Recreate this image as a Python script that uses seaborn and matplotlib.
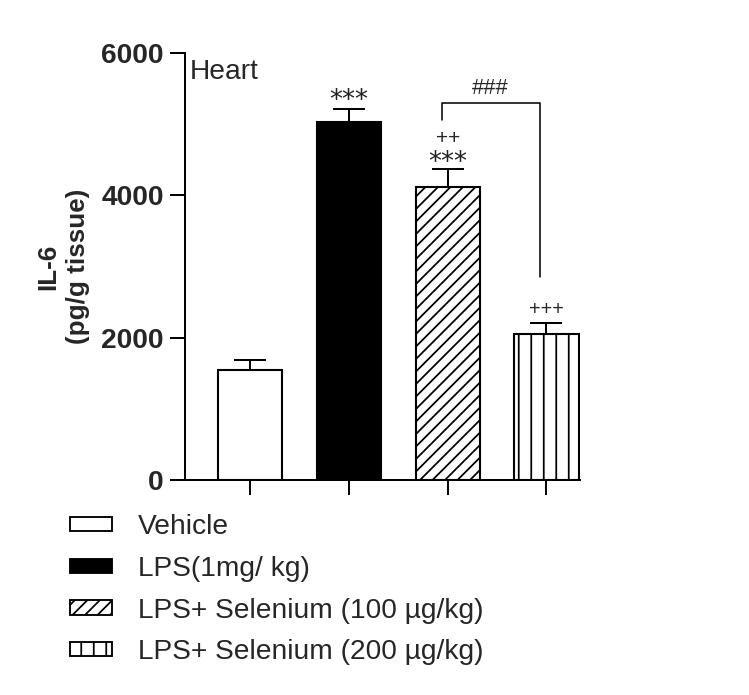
import matplotlib
matplotlib.use("Agg")
import matplotlib.pyplot as plt
from matplotlib.patches import Patch
import seaborn as sns
import pandas as pd
import numpy as np

# ---- data ----
groups = ["Vehicle", "LPS(1mg/ kg)", "LPS+ Selenium (100 \u00b5g/kg)", "LPS+ Selenium (200 \u00b5g/kg)"]
means = [1550, 5030, 4120, 2050]
sems = [140, 185, 250, 155]
colors = ["white", "black", "white", "white"]
hatches = ["", "", "//", "|"]
yticks = [0, 2000, 4000, 6000]
stars = ["", "***", "***", ""]
plus = ["", "", "++", "+++"]

DPI = 75
sns.set_style("ticks")
plt.rcParams["font.family"] = ["Liberation Sans", "DejaVu Sans"]
plt.rcParams["hatch.linewidth"] = 1.7
plt.rcParams["hatch.color"] = "black"

fig = plt.figure(figsize=(749 / DPI, 695 / DPI), dpi=DPI)
W, H = 749, 695
ax = fig.add_axes([185 / W, 1 - 480 / H, (580 - 185) / W, (480 - 53) / H])

df = pd.DataFrame({"group": groups, "value": means})
sns.barplot(data=df, x="group", y="value", hue="group", palette=colors,
            width=0.65, edgecolor="black", linewidth=2.0, legend=False,
            saturation=1, ax=ax, zorder=2)

bars = [p for p in ax.patches]
centers = []
for p, h in zip(bars, hatches):
    p.set_hatch(h)
    p.set_edgecolor("black")
    centers.append(p.get_x() + p.get_width() / 2)
centers = np.array(centers)

ax.errorbar(centers, means, yerr=[np.zeros(len(sems)), sems], fmt="none",
            ecolor="black", elinewidth=1.9, capsize=15.5, capthick=1.9, zorder=1)

ax.set_ylim(0, 6000)
ax.set_xlim(-0.66, 3.34)
ax.set_yticks(yticks)
ax.set_yticklabels([str(t) for t in yticks], fontsize=27, fontweight="bold")
ax.set_xticks(centers)
ax.tick_params(axis="x", labelbottom=False)
ax.tick_params(axis="both", direction="out", length=14.5, width=1.9, color="black")
ax.tick_params(axis="y", pad=6)
sns.despine(ax=ax)
for s in ["left", "bottom"]:
    ax.spines[s].set_linewidth(1.9)
    ax.spines[s].set_color("black")
ax.set_xlabel("")
ax.set_ylabel("IL-6\n(pg/g tissue)", fontsize=25, fontweight="bold", labelpad=11,
              linespacing=1.3)

ax.text(-0.61, 5740, "Heart", fontsize=27, ha="left", va="center")

# significance marks
for c, m, st in zip(centers, means, stars):
    if st:
        yy = 5330 if m > 4500 else 4455
        ax.text(c, yy, st, fontsize=25, ha="center", va="center",
                family="DejaVu Sans", color="#222222")
ax.text(centers[2], 4805, plus[2], fontsize=20, ha="center", va="center")
ax.text(centers[3], 2390, plus[3], fontsize=19, ha="center", va="center")

# bracket between 100 and 200 groups
xl, xr = centers[2] - 0.06, centers[3] - 0.07
ax.plot([xl, xl, xr, xr], [5058, 5297, 5297, 2852], color="black", lw=1.5,
        clip_on=False)
ax.text((xl + xr) / 2, 5500, "###", fontsize=21, ha="center", va="center")

# legend
handles = [Patch(facecolor=c, edgecolor="black", hatch=h, linewidth=1.8)
           for c, h in zip(colors, hatches)]
fig.legend(handles, groups, loc="upper left", bbox_to_anchor=(70 / W, 1 - 514 / H),
           frameon=False, fontsize=27, handlelength=1.5, handleheight=0.4,
           handletextpad=0.9, labelspacing=0.56, borderpad=0, borderaxespad=0)

fig.savefig("out.png", dpi=DPI, facecolor="white")
